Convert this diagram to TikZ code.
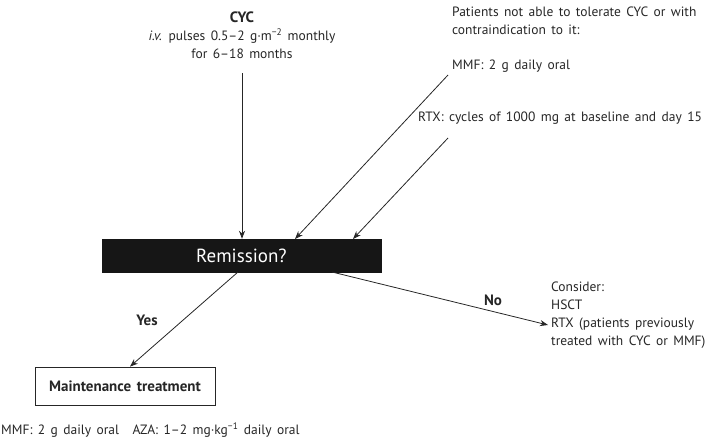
\documentclass[tikz,border=0pt]{standalone}
\usepackage{fontspec}
\setmainfont{PT Sans}[WordSpace=1.5]
\usetikzlibrary{arrows.meta}
\definecolor{ink}{HTML}{262626}
\definecolor{boxfill}{HTML}{161616}
\tikzset{
  txt/.style={inner sep=0pt, font=\fontsize{13.5}{18}\selectfont, text=ink},
  lbl/.style={inner sep=0pt, font=\fontsize{15}{18}\selectfont\bfseries, text=ink},
  conn/.style={draw=ink, line width=0.8pt, -{Stealth[length=8pt,width=6pt]}},
  darkbox/.style={fill=boxfill, draw=boxfill, minimum width=279pt, minimum height=33pt, inner sep=0pt,
     text=white, font=\fontsize{19}{20}\selectfont},
  whitebox/.style={draw=ink, line width=0.8pt, fill=white, minimum width=180pt, minimum height=38pt, inner sep=0pt,
     font=\fontsize{15}{18}\selectfont\bfseries, text=ink}
}
\begin{document}
\begin{tikzpicture}[x=1pt,y=-1pt]
\useasboundingbox (0,0) rectangle (720,442);
% text blocks
\node[txt, align=center] (cyc) at (242,35) {{\fontsize{15}{18}\selectfont\bfseries CYC}\\ \textit{i.v.} pulses 0.5–2 g·m\textsuperscript{−2} monthly\\ for 6–18 months};
\node[txt, align=left, anchor=west] (pat) at (452,21) {Patients not able to tolerate CYC or with\\ contraindication to it:};
\node[txt, anchor=west] (mmf) at (452,66) {MMF: 2 g daily oral};
\node[txt, anchor=west] (rtx) at (418,118) {RTX: cycles of 1000 mg at baseline and day 15};
% boxes
\node[darkbox] (rem) at (241.5,255.5) {Remission?};
\node[whitebox] (maint) at (125,386) {Maintenance treatment};
\node[txt, align=left, anchor=west] (cons) at (551,315) {Consider:\\ HSCT\\ RTX (patients previously\\ treated with CYC or MMF)};
\node[txt, anchor=west] (bottom) at (1,430) {MMF: 2 g daily oral\hspace{0.6em} AZA: 1–2 mg·kg\textsuperscript{−1} daily oral};
% labels
\node[lbl] (yes) at (147,320) {Yes};
\node[lbl] (no) at (493,300) {No};
% connector end points
\coordinate (c1) at (242,73);
\coordinate (m1) at (448,75);
\coordinate (r1) at (448,138);
\coordinate (m2) at (295,239);
\coordinate (r2) at (353,239);
\coordinate (y1) at (238,272);
\coordinate (n1) at (332,272);
\coordinate (n2) at (548,325);
% connectors
\draw[conn] (c1) -- (c1 |- rem.north);
\draw[conn] (m1) -- (m2);
\draw[conn] (r1) -- (r2);
\draw[conn] (y1) -- (maint.north west -| 130,0);
\draw[conn] (n1) -- (n2);
\end{tikzpicture}
\end{document}
